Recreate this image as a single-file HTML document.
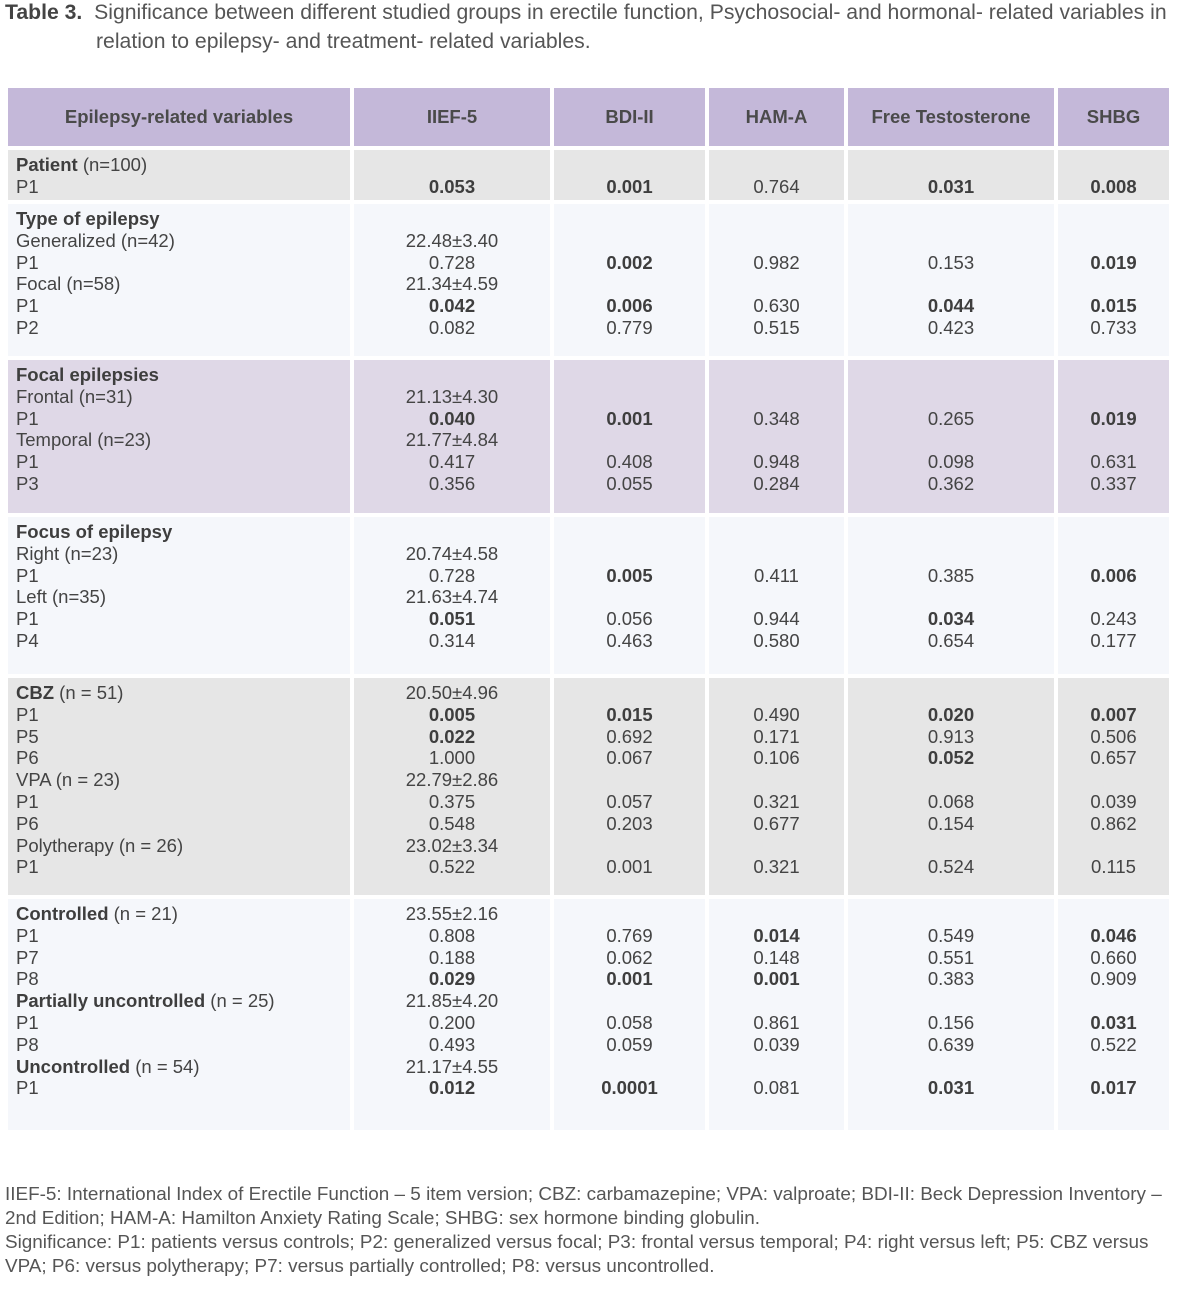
<!DOCTYPE html>
<html><head><meta charset="utf-8"><style>
body{margin:0;width:1177px;height:1302px;background:#fff;position:relative;font-family:"Liberation Sans",sans-serif;color:#444;overflow:hidden}
.t{position:absolute;left:5px;font-size:21.2px;line-height:29px;color:#555;white-space:nowrap}
.c{position:absolute;box-sizing:border-box;font-size:18.5px;line-height:21.8px;padding-top:4px;text-align:center;white-space:nowrap}
.l{text-align:left;padding-left:8px}
.h{background:#c4b8d9;font-weight:bold;font-size:18.5px;line-height:58px;padding-top:0;color:#4a4a4a}
.g{background:#e6e6e6}.w{background:#f5f7fb}.p{background:#dfd8e7}
b{color:#3e3e3e}
.f{position:absolute;left:5px;font-size:18.9px;line-height:24px;color:#555;width:1172px;white-space:nowrap}
</style></head><body>
<div class="t" style="top:-2px"><b style="color:#444">Table 3.</b>&nbsp; Significance between different studied groups in erectile function, Psychosocial- and hormonal- related variables in</div>
<div class="t" style="top:27px;left:96px">relation to epilepsy- and treatment- related variables.</div>

<div class="c h" style="left:8px;top:88px;width:342px;height:58px">Epilepsy-related variables</div>
<div class="c h" style="left:354px;top:88px;width:196px;height:58px">IIEF-5</div>
<div class="c h" style="left:554px;top:88px;width:151px;height:58px">BDI-II</div>
<div class="c h" style="left:709px;top:88px;width:135px;height:58px">HAM-A</div>
<div class="c h" style="left:848px;top:88px;width:206px;height:58px">Free Testosterone</div>
<div class="c h" style="left:1058px;top:88px;width:111px;height:58px">SHBG</div>

<div class="c g l" style="left:8px;top:150px;width:342px;height:50px"><b>Patient</b> (n=100)<br>P1</div>
<div class="c g" style="left:354px;top:150px;width:196px;height:50px">&nbsp;<br><b>0.053</b></div>
<div class="c g" style="left:554px;top:150px;width:151px;height:50px">&nbsp;<br><b>0.001</b></div>
<div class="c g" style="left:709px;top:150px;width:135px;height:50px">&nbsp;<br>0.764</div>
<div class="c g" style="left:848px;top:150px;width:206px;height:50px">&nbsp;<br><b>0.031</b></div>
<div class="c g" style="left:1058px;top:150px;width:111px;height:50px">&nbsp;<br><b>0.008</b></div>

<div class="c w l" style="left:8px;top:204px;width:342px;height:152px"><b>Type of epilepsy</b><br>Generalized (n=42)<br>P1<br>Focal (n=58)<br>P1<br>P2</div>
<div class="c w" style="left:354px;top:204px;width:196px;height:152px">&nbsp;<br>22.48±3.40<br>0.728<br>21.34±4.59<br><b>0.042</b><br>0.082</div>
<div class="c w" style="left:554px;top:204px;width:151px;height:152px">&nbsp;<br>&nbsp;<br><b>0.002</b><br>&nbsp;<br><b>0.006</b><br>0.779</div>
<div class="c w" style="left:709px;top:204px;width:135px;height:152px">&nbsp;<br>&nbsp;<br>0.982<br>&nbsp;<br>0.630<br>0.515</div>
<div class="c w" style="left:848px;top:204px;width:206px;height:152px">&nbsp;<br>&nbsp;<br>0.153<br>&nbsp;<br><b>0.044</b><br>0.423</div>
<div class="c w" style="left:1058px;top:204px;width:111px;height:152px">&nbsp;<br>&nbsp;<br><b>0.019</b><br>&nbsp;<br><b>0.015</b><br>0.733</div>

<div class="c p l" style="left:8px;top:360px;width:342px;height:153px"><b>Focal epilepsies</b><br>Frontal (n=31)<br>P1<br>Temporal (n=23)<br>P1<br>P3</div>
<div class="c p" style="left:354px;top:360px;width:196px;height:153px">&nbsp;<br>21.13±4.30<br><b>0.040</b><br>21.77±4.84<br>0.417<br>0.356</div>
<div class="c p" style="left:554px;top:360px;width:151px;height:153px">&nbsp;<br>&nbsp;<br><b>0.001</b><br>&nbsp;<br>0.408<br>0.055</div>
<div class="c p" style="left:709px;top:360px;width:135px;height:153px">&nbsp;<br>&nbsp;<br>0.348<br>&nbsp;<br>0.948<br>0.284</div>
<div class="c p" style="left:848px;top:360px;width:206px;height:153px">&nbsp;<br>&nbsp;<br>0.265<br>&nbsp;<br>0.098<br>0.362</div>
<div class="c p" style="left:1058px;top:360px;width:111px;height:153px">&nbsp;<br>&nbsp;<br><b>0.019</b><br>&nbsp;<br>0.631<br>0.337</div>

<div class="c w l" style="left:8px;top:517px;width:342px;height:157px"><b>Focus of epilepsy</b><br>Right (n=23)<br>P1<br>Left (n=35)<br>P1<br>P4</div>
<div class="c w" style="left:354px;top:517px;width:196px;height:157px">&nbsp;<br>20.74±4.58<br>0.728<br>21.63±4.74<br><b>0.051</b><br>0.314</div>
<div class="c w" style="left:554px;top:517px;width:151px;height:157px">&nbsp;<br>&nbsp;<br><b>0.005</b><br>&nbsp;<br>0.056<br>0.463</div>
<div class="c w" style="left:709px;top:517px;width:135px;height:157px">&nbsp;<br>&nbsp;<br>0.411<br>&nbsp;<br>0.944<br>0.580</div>
<div class="c w" style="left:848px;top:517px;width:206px;height:157px">&nbsp;<br>&nbsp;<br>0.385<br>&nbsp;<br><b>0.034</b><br>0.654</div>
<div class="c w" style="left:1058px;top:517px;width:111px;height:157px">&nbsp;<br>&nbsp;<br><b>0.006</b><br>&nbsp;<br>0.243<br>0.177</div>

<div class="c g l" style="left:8px;top:678px;width:342px;height:217px"><b>CBZ</b> (n = 51)<br>P1<br>P5<br>P6<br>VPA (n = 23)<br>P1<br>P6<br>Polytherapy (n = 26)<br>P1</div>
<div class="c g" style="left:354px;top:678px;width:196px;height:217px">20.50±4.96<br><b>0.005</b><br><b>0.022</b><br>1.000<br>22.79±2.86<br>0.375<br>0.548<br>23.02±3.34<br>0.522</div>
<div class="c g" style="left:554px;top:678px;width:151px;height:217px">&nbsp;<br><b>0.015</b><br>0.692<br>0.067<br>&nbsp;<br>0.057<br>0.203<br>&nbsp;<br>0.001</div>
<div class="c g" style="left:709px;top:678px;width:135px;height:217px">&nbsp;<br>0.490<br>0.171<br>0.106<br>&nbsp;<br>0.321<br>0.677<br>&nbsp;<br>0.321</div>
<div class="c g" style="left:848px;top:678px;width:206px;height:217px">&nbsp;<br><b>0.020</b><br>0.913<br><b>0.052</b><br>&nbsp;<br>0.068<br>0.154<br>&nbsp;<br>0.524</div>
<div class="c g" style="left:1058px;top:678px;width:111px;height:217px">&nbsp;<br><b>0.007</b><br>0.506<br>0.657<br>&nbsp;<br>0.039<br>0.862<br>&nbsp;<br>0.115</div>

<div class="c w l" style="left:8px;top:899px;width:342px;height:231px"><b>Controlled</b> (n = 21)<br>P1<br>P7<br>P8<br><b>Partially uncontrolled</b> (n = 25)<br>P1<br>P8<br><b>Uncontrolled</b> (n = 54)<br>P1</div>
<div class="c w" style="left:354px;top:899px;width:196px;height:231px">23.55±2.16<br>0.808<br>0.188<br><b>0.029</b><br>21.85±4.20<br>0.200<br>0.493<br>21.17±4.55<br><b>0.012</b></div>
<div class="c w" style="left:554px;top:899px;width:151px;height:231px">&nbsp;<br>0.769<br>0.062<br><b>0.001</b><br>&nbsp;<br>0.058<br>0.059<br>&nbsp;<br><b>0.0001</b></div>
<div class="c w" style="left:709px;top:899px;width:135px;height:231px">&nbsp;<br><b>0.014</b><br>0.148<br><b>0.001</b><br>&nbsp;<br>0.861<br>0.039<br>&nbsp;<br>0.081</div>
<div class="c w" style="left:848px;top:899px;width:206px;height:231px">&nbsp;<br>0.549<br>0.551<br>0.383<br>&nbsp;<br>0.156<br>0.639<br>&nbsp;<br><b>0.031</b></div>
<div class="c w" style="left:1058px;top:899px;width:111px;height:231px">&nbsp;<br><b>0.046</b><br>0.660<br>0.909<br>&nbsp;<br><b>0.031</b><br>0.522<br>&nbsp;<br><b>0.017</b></div>

<div class="f" style="top:1183px">IIEF-5: International Index of Erectile Function – 5 item version; CBZ: carbamazepine; VPA: valproate; BDI-II: Beck Depression Inventory –<br>2nd Edition; HAM-A: Hamilton Anxiety Rating Scale; SHBG: sex hormone binding globulin.<br>Significance: P1: patients versus controls; P2: generalized versus focal; P3: frontal versus temporal; P4: right versus left; P5: CBZ versus<br>VPA; P6: versus polytherapy; P7: versus partially controlled; P8: versus uncontrolled.</div>
</body></html>
